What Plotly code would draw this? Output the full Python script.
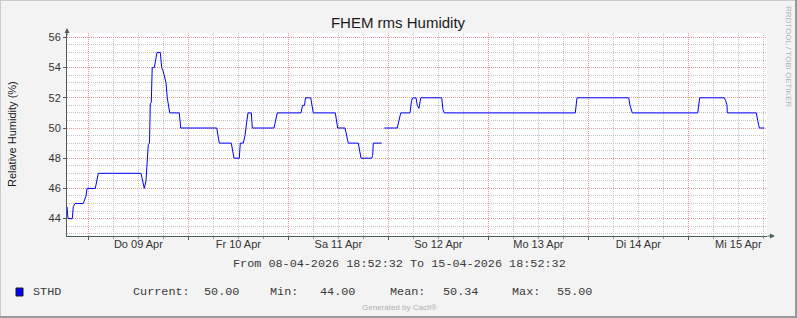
import plotly.graph_objects as go
from datetime import datetime, timedelta

# ---------------- data ----------------
start_time = datetime(2026, 4, 8, 18, 52, 32)
end_time = start_time + timedelta(days=7)

# hours since start, and relative humidity (%)
hours = [0.00, 0.24, 1.27, 1.51, 1.92, 3.91, 4.56, 4.80, 6.79, 7.20, 7.51,
         17.76, 18.17, 18.55, 18.96, 19.51, 19.80, 19.99, 20.23, 20.45, 20.95,
         21.29, 21.60, 22.39, 22.73, 23.04, 23.35, 23.76, 24.07, 24.65, 26.95,
         27.29, 35.93, 36.24, 36.55, 39.43, 39.67, 40.08, 41.35, 41.59, 42.31,
         42.72, 43.13, 43.44, 44.23, 44.47, 49.68, 49.99, 50.47, 56.16, 56.52,
         57.00, 57.24, 58.49, 58.80, 59.11, 64.39, 64.68, 64.97, 66.72, 67.08,
         67.51, 69.91, 70.32, 70.56, 73.13, 73.37, 73.51, 75.53, 75.80,
         76.15, 79.27, 79.68, 80.09, 82.32, 82.68, 82.97, 83.76, 84.07, 84.48,
         84.89, 89.93, 90.24, 90.55, 121.99, 122.40, 134.81, 135.12, 135.67,
         151.37, 151.85, 157.75, 158.09, 158.40, 158.47, 165.43, 165.77, 166.15,
         167.35]
humidity = [44.8, 44.0, 44.0, 44.8, 45.0, 45.0, 45.5, 46.0, 46.0, 46.5, 47.0,
            47.0, 46.5, 46.0, 46.5, 48.9, 49.0, 51.6, 51.7, 54.0, 54.0,
            54.5, 55.0, 55.0, 54.0, 53.8, 53.5, 53.0, 52.0, 51.0, 51.0,
            50.0, 50.0, 49.5, 49.0, 49.0, 48.7, 48.0, 48.0, 49.0, 49.0,
            49.5, 50.4, 51.0, 51.0, 50.0, 50.0, 50.5, 51.0, 51.0, 51.5,
            51.5, 52.0, 52.0, 51.5, 51.0, 51.0, 50.5, 50.0, 50.0, 49.5,
            49.0, 49.0, 48.5, 48.0, 48.0, 48.2, 49.0, 49.0, None,
            50.0, 50.0, 50.5, 51.0, 51.0, 51.8, 52.0, 52.0, 51.5, 51.3,
            52.0, 52.0, 51.2, 51.0, 51.0, 52.0, 52.0, 51.5, 51.0,
            51.0, 52.0, 52.0, 51.8, 51.5, 51.0, 51.0, 50.5, 50.0,
            50.0]

day_labels = ["Do 09 Apr", "Fr 10 Apr", "Sa 11 Apr", "So 12 Apr",
              "Mo 13 Apr", "Di 14 Apr", "Mi 15 Apr"]
y_major = [44, 46, 48, 50, 52, 54, 56]
series_name = "STHD"
stats_labels = ["Current:", "Min:", "Mean:", "Max:"]
stats_values = ["50.00", "44.00", "50.34", "55.00"]
footer_text = "From 08-04-2026 18:52:32 To 15-04-2026 18:52:32"

# ---------------- layout geometry ----------------
W, H = 797, 318
L, R, T, B = 67, 30, 33, 82
PW, PH = W - L - R, H - T - B


def px(x):
    return (x - L) / PW


def py(y):
    return (H - B - y) / PH


times = [start_time + timedelta(hours=h) for h in hours]
midnights = [datetime(2026, 4, d) for d in range(9, 16)]
noons = [datetime(2026, 4, d, 12) for d in range(9, 16)]
# minor grid: every 6 h, except midnights (major grid)
x_minor = [datetime(2026, 4, 8, 18)] + [datetime(2026, 4, d, hh)
                                         for d in range(9, 16)
                                         for hh in (6, 12, 18)]
y_minor = [v / 2 for v in range(86, 113) if v % 4 != 0]

AXIS = "#4d5f5f"
MGRID = "#E39A9A"
GRID = "#C4C4C4"
DASH = "1px,1px"
SANS = "Liberation Sans, Arial, sans-serif"
MONO = "Liberation Mono, Courier New, monospace"

fig = go.Figure()
fig.add_trace(go.Scatter(x=times, y=humidity, mode="lines",
                         line=dict(color="#0000FF", width=1),
                         connectgaps=False, showlegend=False,
                         hoverinfo="skip"))
# anchor trace for the label axis
fig.add_trace(go.Scatter(x=[start_time], y=[None], xaxis="x2",
                         mode="lines", showlegend=False, hoverinfo="skip"))

fig.update_layout(
    width=W, height=H,
    margin=dict(l=L, r=R, t=T, b=B),
    paper_bgcolor="#F3F3F3",
    plot_bgcolor="#FFFFFF",
    title=dict(text="FHEM rms Humidity", x=398 / W, xanchor="center",
               y=1 - 22.5 / H, yanchor="middle", yref="container",
               font=dict(family=SANS, size=15, color="#1a1a1a")),
    xaxis=dict(type="date", range=[start_time, end_time],
               tickvals=midnights, showticklabels=False,
               showgrid=True, gridcolor=MGRID, griddash=DASH, gridwidth=1,
               ticks="outside", ticklen=3, tickcolor=AXIS,
               minor=dict(tickvals=x_minor,
                          showgrid=True, gridcolor=GRID, griddash=DASH,
                          gridwidth=1, ticks="outside", ticklen=2,
                          tickcolor="#999999"),
               showline=True, linecolor=AXIS, linewidth=1,
               zeroline=False, fixedrange=True, layer="below traces"),
    xaxis2=dict(type="date", overlaying="x", anchor="y", side="bottom",
                range=[start_time, end_time], tickvals=noons,
                ticktext=day_labels, showgrid=False, ticks="",
                showline=False, zeroline=False,
                tickfont=dict(family=SANS, size=11, color="#333333")),
    yaxis=dict(range=[42.85, 56.29], tickvals=y_major,
               showgrid=True, gridcolor=MGRID, griddash=DASH, gridwidth=1,
               ticks="outside", ticklen=3, tickcolor=AXIS,
               minor=dict(tickvals=y_minor, showgrid=True, gridcolor=GRID,
                          griddash=DASH, gridwidth=1),
               showline=True, linecolor=AXIS, linewidth=1,
               zeroline=False,
               tickfont=dict(family=SANS, size=11, color="#333333")),
    showlegend=False,
)

ann = []
# axis arrows
ann.append(dict(xref="paper", yref="paper", x=px(775), y=0, ax=-9, ay=0,
                text="", showarrow=True, arrowhead=2, arrowsize=1,
                arrowwidth=1, arrowcolor=AXIS))
ann.append(dict(xref="paper", yref="paper", x=0, y=py(28), ax=0, ay=9,
                text="", showarrow=True, arrowhead=2, arrowsize=1,
                arrowwidth=1, arrowcolor=AXIS))
# y-axis title
ann.append(dict(xref="paper", yref="paper", x=px(11.5), y=py(134.5),
                text="Relative Humidity (%)", textangle=-90, showarrow=False,
                xanchor="center", yanchor="middle",
                font=dict(family=SANS, size=11, color="#1a1a1a")))
# right-side credit
ann.append(dict(xref="paper", yref="paper", x=px(788.5), y=py(56.5),
                text="RRDTOOL / TOBI OETIKER", textangle=90, showarrow=False,
                xanchor="center", yanchor="middle",
                font=dict(family=SANS, size=8, color="#b4b4b4")))
# footer
ann.append(dict(xref="paper", yref="paper", x=px(399), y=py(263.5),
                text=footer_text, showarrow=False, xanchor="center",
                yanchor="middle",
                font=dict(family=MONO, size=11.8, color="#3a3a3a")))
# legend line
legend_items = [(series_name, 31)]
stat_x = [(130.8, 201.5), (268, 318), (387.7, 440.5), (509.6, 555)]
for (lx, vx), lab, val in zip(stat_x, stats_labels, stats_values):
    legend_items.append((lab, lx))
    legend_items.append((val, vx))
for txt, x0 in legend_items:
    ann.append(dict(xref="paper", yref="paper", x=px(x0), y=py(291.7),
                    text=txt, showarrow=False, xanchor="left",
                    yanchor="middle",
                    font=dict(family=MONO, size=11.8, color="#3a3a3a")))
ann.append(dict(xref="paper", yref="paper", x=px(399), y=py(307),
                text="Generated by Cacti®", showarrow=False,
                xanchor="center", yanchor="middle",
                font=dict(family=SANS, size=8, color="#b0b0b0")))
fig.update_layout(annotations=ann)

shapes = [
    # legend swatch
    dict(type="rect", xref="paper", yref="paper",
         x0=px(16), x1=px(23), y0=py(296), y1=py(288),
         fillcolor="#0000FF", line=dict(color="#1a1a1a", width=1)),
    # frame: light top/left, dark bottom/right
    dict(type="line", xref="paper", yref="paper", x0=px(0.5), x1=px(0.5),
         y0=py(0), y1=py(318), line=dict(color="#CBCBCB", width=1)),
    dict(type="line", xref="paper", yref="paper", x0=px(0), x1=px(797),
         y0=py(0.5), y1=py(0.5), line=dict(color="#CBCBCB", width=1)),
    dict(type="line", xref="paper", yref="paper", x0=px(796), x1=px(796),
         y0=py(0), y1=py(318), line=dict(color="#999999", width=2)),
    dict(type="line", xref="paper", yref="paper", x0=px(0), x1=px(797),
         y0=py(317), y1=py(317), line=dict(color="#999999", width=2)),
]
fig.update_layout(shapes=shapes)

fig.write_html("out.html", config={"displayModeBar": False})
